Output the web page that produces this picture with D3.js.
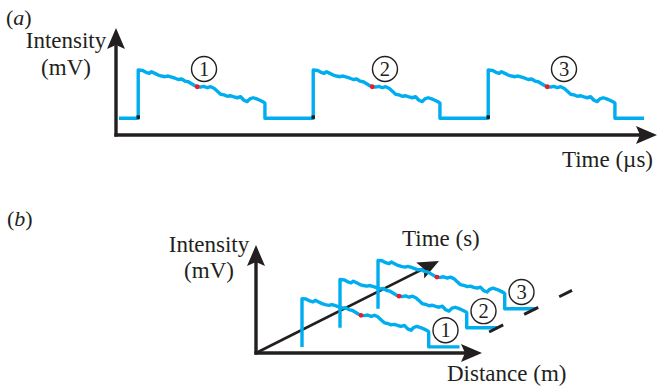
<!DOCTYPE html>
<html>
<head>
<meta charset="utf-8">
<script src="https://cdn.jsdelivr.net/npm/d3@7"></script>
<style>
body { margin: 0; background: #fff; }
text { font-family: "Liberation Serif", "Times New Roman", serif; fill: #231f20; }
</style>
</head>
<body>
<div id="chart"></div>
<script>
// pulse shape: time after rise (us) and intensity (mV)
var profileT = [0, 0.23, 0.44, 0.63, 0.76, 0.95, 1.14, 1.33, 1.53, 1.71, 1.91, 2.10, 2.29, 2.48, 2.67, 2.86, 3.05, 3.24, 3.37, 3.56,
    3.75, 3.95, 4.14, 4.33, 4.51, 4.71, 4.90, 5.09, 5.28, 5.47, 5.66, 5.85, 6.04, 6.23, 6.38, 6.57, 6.77, 6.95, 7.18, 7.24];
var profileV = [3.89, 3.87, 3.75, 3.69, 3.79, 3.69, 3.59, 3.53, 3.49, 3.53, 3.47, 3.40, 3.32, 3.35, 3.23, 3.19, 3.07, 2.95, 2.89, 2.87,
    2.91, 2.83, 2.89, 2.80, 2.63, 2.44, 2.40, 2.32, 2.35, 2.28, 2.23, 2.29, 2.08, 2.00, 2.16, 2.23, 2.16, 2.08, 1.96, 1.90];
var baselineV = 1.0;
var markerIndex = 18;

// panel (a)
var pulseStartsA = [1.27, 11.27, 21.27];
var traceRangeA = [0.17, 30.17];
var labelsA = ["1", "2", "3"];
var labelTA = [5.03, 15.37, 25.6];
var labelVA = 3.95;

// panel (b)
var traceTimesB = [1, 2, 3];
var tailEndB = 9.0;
var dashTimesB = [1.78, 3.96];
var labelDB = 8.2;
var labelVB = 2.0;

var blue = "#00aeef", red = "#ed1c24", ink = "#231f20";

var svg = d3.select("#chart").append("svg")
    .attr("width", 657)
    .attr("height", 390);

function arrow(g, x1, y1, x2, y2, w) {
    var len = 21, half = 9, notch = 4;
    var dx = x2 - x1, dy = y2 - y1, d = Math.sqrt(dx * dx + dy * dy);
    var ux = dx / d, uy = dy / d, px = -uy, py = ux;
    var bx = x2 - ux * len, by = y2 - uy * len;
    g.append("line")
        .attr("x1", x1).attr("y1", y1)
        .attr("x2", bx + ux * notch).attr("y2", by + uy * notch)
        .attr("stroke", ink).attr("stroke-width", w);
    g.append("path")
        .attr("d", "M" + x2 + "," + y2 +
            "L" + (bx + px * half) + "," + (by + py * half) +
            "L" + (bx + ux * notch) + "," + (by + uy * notch) +
            "L" + (bx - px * half) + "," + (by - py * half) + "Z")
        .attr("fill", ink);
}

function circled(g, x, y, t) {
    g.append("circle").attr("cx", x).attr("cy", y).attr("r", 12.5)
        .attr("fill", "none").attr("stroke", ink).attr("stroke-width", 1.4);
    g.append("text").attr("x", x).attr("y", y + 7)
        .attr("text-anchor", "middle").attr("font-size", 20.5).text(t);
}

/*
 * Panel (a)
 */
var xA = d3.scaleLinear().domain([0, 31]).range([116, 658.5]);
var yA = d3.scaleLinear().domain([0, 6.4]).range([135, 28.1]);
var gA = svg.append("g");

arrow(gA, xA(0), yA(0) + 1.6, xA(0), yA.range()[1], 3.4);
arrow(gA, xA(0) - 1.6, yA(0), 657, yA(0), 3.4);

var ptsA = [[traceRangeA[0], baselineV]];
pulseStartsA.forEach(function(s) {
    ptsA.push([s, baselineV]);
    profileT.forEach(function(t, i) { ptsA.push([s + t, profileV[i]]); });
    ptsA.push([s + profileT[profileT.length - 1], baselineV]);
});
ptsA.push([traceRangeA[1], baselineV]);

var lineA = d3.line()
    .x(function(d) { return xA(d[0]); })
    .y(function(d) { return yA(d[1]); });

gA.append("path")
    .attr("d", lineA(ptsA))
    .attr("fill", "none")
    .attr("stroke", blue)
    .attr("stroke-width", 3.4)
    .attr("stroke-linejoin", "round");

gA.selectAll(".foot").data(pulseStartsA).enter().append("rect")
    .attr("x", function(d) { return xA(d) - 1.7; })
    .attr("y", yA(baselineV) - 3)
    .attr("width", 3.4).attr("height", 3.6)
    .attr("fill", ink);

gA.selectAll(".mark").data(pulseStartsA).enter().append("circle")
    .attr("cx", function(d) { return xA(d + profileT[markerIndex]); })
    .attr("cy", yA(profileV[markerIndex]))
    .attr("r", 2.4)
    .attr("fill", red);

labelsA.forEach(function(l, i) { circled(gA, xA(labelTA[i]), yA(labelVA), l); });

gA.append("text").attr("x", 6).attr("y", 25).attr("font-size", 22)
    .html("(<tspan font-style='italic'>a</tspan>)");
gA.append("text").attr("x", 66).attr("y", 48).attr("text-anchor", "middle")
    .attr("font-size", 23).text("Intensity");
gA.append("text").attr("x", 66).attr("y", 75).attr("text-anchor", "middle")
    .attr("font-size", 23).text("(mV)");
gA.append("text").attr("x", 653).attr("y", 167).attr("text-anchor", "end")
    .attr("font-size", 23).text("Time (\u00b5s)");

/*
 * Panel (b): pseudo 3D, distance across, intensity up, time along the diagonal
 */
var xB = d3.scaleLinear().domain([0, 12]).range([264, 474]);
var yB = d3.scaleLinear().domain([0, 6.4]).range([382.7, 275.8]);
var origin = [256, 353], timeTip = [439, 261];
var tB = d3.scaleLinear().domain([0, 4.815]).range([0, 1]);

function proj(d, v, t) {
    var f = tB(t);
    return [xB(d) + f * (timeTip[0] - origin[0]), yB(v) + f * (timeTip[1] - origin[1])];
}

var gB = svg.append("g");
arrow(gB, origin[0], origin[1] + 1.6, origin[0], 245, 3.4);
arrow(gB, origin[0] - 1.6, origin[1], 482, origin[1], 3.4);
arrow(gB, origin[0], origin[1], timeTip[0], timeTip[1], 2.7);

var lineB = d3.line();

traceTimesB.forEach(function(t) {
    var pts = [proj(0, baselineV, t)];
    profileT.forEach(function(p, i) { pts.push(proj(p, profileV[i], t)); });
    pts.push(proj(profileT[profileT.length - 1], baselineV, t));
    pts.push(proj(tailEndB, baselineV, t));
    gB.append("path")
        .attr("d", lineB(pts))
        .attr("fill", "none")
        .attr("stroke", blue)
        .attr("stroke-width", 3.4)
        .attr("stroke-linejoin", "round");
});

traceTimesB.forEach(function(t) {
    var p = proj(profileT[markerIndex], profileV[markerIndex], t);
    gB.append("circle").attr("cx", p[0]).attr("cy", p[1]).attr("r", 2.4).attr("fill", red);
});

var d0 = proj(tailEndB, baselineV, dashTimesB[0]), d1 = proj(tailEndB, baselineV, dashTimesB[1]);
gB.append("line")
    .attr("x1", d0[0]).attr("y1", d0[1])
    .attr("x2", d1[0]).attr("y2", d1[1])
    .attr("stroke", ink)
    .attr("stroke-width", 3)
    .attr("stroke-dasharray", "15.7,23.5");

traceTimesB.forEach(function(t, i) {
    var p = proj(labelDB, labelVB, t);
    circled(gB, p[0], p[1], labelsA[i]);
});

gB.append("text").attr("x", 7).attr("y", 226).attr("font-size", 22)
    .html("(<tspan font-style='italic'>b</tspan>)");
gB.append("text").attr("x", 209).attr("y", 252).attr("text-anchor", "middle")
    .attr("font-size", 23).text("Intensity");
gB.append("text").attr("x", 209).attr("y", 278).attr("text-anchor", "middle")
    .attr("font-size", 23).text("(mV)");
gB.append("text").attr("x", 402).attr("y", 246).attr("font-size", 23).text("Time (s)");
gB.append("text").attr("x", 447).attr("y", 381).attr("font-size", 23).text("Distance (m)");
</script>
</body>
</html>
